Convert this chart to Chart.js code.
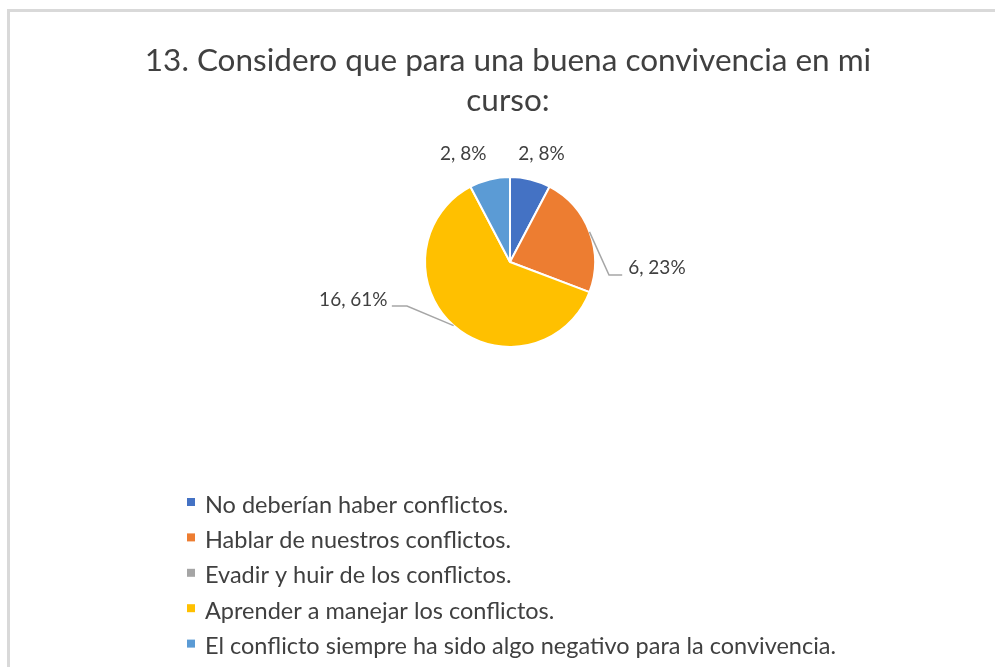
<!DOCTYPE html>
<html>
<head>
<meta charset="utf-8">
<script src="https://cdn.jsdelivr.net/npm/chart.js@4/dist/chart.umd.min.js"></script>
<style>
  html, body { margin: 0; padding: 0; background: #fff; }
  canvas { display: block; }
</style>
</head>
<body>
<canvas id="pie" width="995" height="667"></canvas>
<script>
// data
const titleLines = ['13. Considero que para una buena convivencia en mi', 'curso:'];
const categories = [
  'No deberían haber conflictos.',
  'Hablar de nuestros conflictos.',
  'Evadir y huir de los conflictos.',
  'Aprender a manejar los conflictos.',
  'El conflicto siempre ha sido algo negativo para la convivencia.'
];
const counts = [2, 6, 0, 16, 2];
const percents = [8, 23, 0, 61, 8];
const colors = ['#4472C4', '#ED7D31', '#A5A5A5', '#FFC000', '#5B9BD5'];

// label placement, in pie radii from the centre (Excel moved these by hand)
const labelPlace = [
  { x: 0.37, y: -1.27, align: 'center' },
  { x: 1.39, y: 0.07, align: 'left', elbow: [1.165, 0.153], end: 1.32 },
  null,
  { x: -1.44, y: 0.45, align: 'right', elbow: [-1.212, 0.518], end: -1.39 },
  { x: -0.55, y: -1.27, align: 'center' }
];

const FONT = 'Lato, "Open Sans", sans-serif';
const TEXT = '#404040';

const decor = {
  id: 'decor',
  beforeDraw(chart) {
    const ctx = chart.ctx;
    ctx.save();
    ctx.fillStyle = '#fff';
    ctx.fillRect(0, 0, chart.width, chart.height);
    // frame of the excel chart
    ctx.fillStyle = '#d9d9d9';
    ctx.fillRect(7, 9, chart.width, 3);
    ctx.fillRect(7, 9, 3, chart.height);
    // title
    ctx.fillStyle = TEXT;
    ctx.font = '31.5px ' + FONT;
    ctx.textAlign = 'center';
    ctx.textBaseline = 'alphabetic';
    ctx.fillText(titleLines[0], 508, 71);
    ctx.fillText(titleLines[1], 508, 111);
    ctx.restore();
  },
  afterDatasetsDraw(chart) {
    const ctx = chart.ctx;
    const arcs = chart.getDatasetMeta(0).data;
    ctx.save();
    ctx.font = '19px ' + FONT;
    ctx.fillStyle = TEXT;
    ctx.textBaseline = 'middle';
    arcs.forEach((arc, i) => {
      const p = labelPlace[i];
      if (!p || counts[i] === 0) return;
      const r = arc.outerRadius;
      const cx = arc.x, cy = arc.y;
      if (p.elbow) {
        const mid = (arc.startAngle + arc.endAngle) / 2;
        ctx.strokeStyle = '#a6a6a6';
        ctx.lineWidth = 1.5;
        ctx.beginPath();
        ctx.moveTo(cx + Math.cos(mid) * r, cy + Math.sin(mid) * r);
        ctx.lineTo(cx + p.elbow[0] * r, cy + p.elbow[1] * r);
        ctx.lineTo(cx + p.end * r, cy + p.elbow[1] * r);
        ctx.stroke();
      }
      ctx.textAlign = p.align;
      ctx.fillText(counts[i] + ', ' + percents[i] + '%', cx + p.x * r, cy + p.y * r);
    });
    ctx.restore();
  },
  afterDraw(chart) {
    const ctx = chart.ctx;
    ctx.save();
    ctx.font = '23.5px ' + FONT;
    ctx.textAlign = 'left';
    ctx.textBaseline = 'middle';
    categories.forEach((name, i) => {
      const y = 505 + i * 35.4;
      ctx.fillStyle = colors[i];
      ctx.fillRect(187, y - 7, 8, 8);
      ctx.fillStyle = TEXT;
      ctx.fillText(name, 205, y);
    });
    ctx.restore();
  }
};

new Chart(document.getElementById('pie'), {
  type: 'pie',
  data: {
    labels: categories,
    datasets: [{
      data: counts,
      backgroundColor: colors,
      borderColor: '#ffffff',
      borderWidth: 2
    }]
  },
  options: {
    responsive: false,
    animation: false,
    devicePixelRatio: 1,
    layout: { padding: { left: 424, right: 399, top: 176, bottom: 319 } },
    plugins: {
      legend: { display: false },
      title: { display: false },
      tooltip: { enabled: false }
    }
  },
  plugins: [decor]
});
</script>
</body>
</html>
